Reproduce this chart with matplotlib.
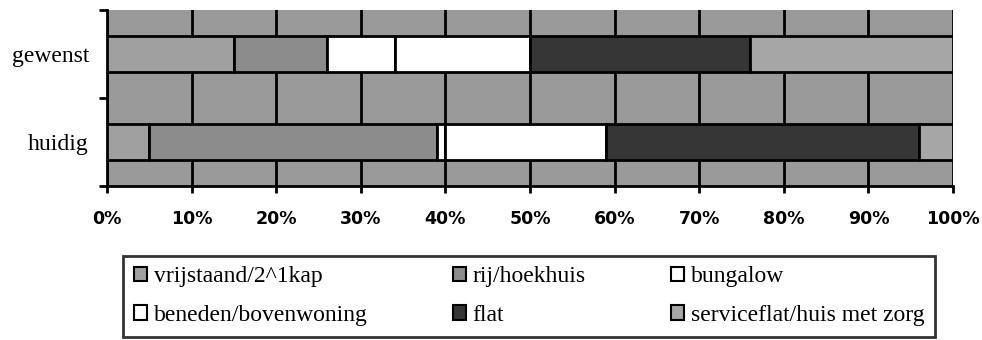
import matplotlib.pyplot as plt
from matplotlib.patches import Patch

# Housing type shares (%), desired vs current
categories = ['gewenst', 'huidig']
vrijstaand = [15, 5]
rij = [11, 34]
bungalow = [8, 1]
beneden = [16, 19]
flat = [26, 37]
service = [24, 4]

series_names = ['vrijstaand/2^1kap', 'rij/hoekhuis', 'bungalow',
                'beneden/bovenwoning', 'flat', 'serviceflat/huis met zorg']
series_values = [vrijstaand, rij, bungalow, beneden, flat, service]
series_colors = ['#a0a0a0', '#8c8c8c', 'white', 'white', '#363636', '#a6a6a6']

xticks = list(range(0, 101, 10))
xtick_labels = [f'{t}%' for t in xticks]

serif = 'Liberation Serif'
sans = 'DejaVu Sans'

fig = plt.figure(figsize=(9.82, 3.4), dpi=100)
ax = fig.add_axes([107 / 982, 1 - 186 / 340, (953 - 107) / 982, (186 - 10) / 340])
ax.set_facecolor('#9a9a9a')

ypos = [1.5, 0.5]
left = [0, 0]
for name, vals, col in zip(series_names, series_values, series_colors):
    ax.barh(ypos, vals, left=left, height=0.4, color=col,
            edgecolor='black', linewidth=2, label=name, zorder=3)
    left = [l + v for l, v in zip(left, vals)]

ax.set_xlim(0, 100)
ax.set_ylim(0, 2)
ax.set_axisbelow(True)
ax.xaxis.grid(True, color='black', linewidth=2)

ax.set_xticks(xticks)
ax.set_xticklabels(xtick_labels, fontfamily=sans, fontweight='bold', fontsize=12.5)
ax.tick_params(axis='x', direction='out', length=5, width=2, pad=12)

ax.set_yticks([0, 1, 2])
ax.set_yticklabels([])
ax.tick_params(axis='y', which='major', direction='out', length=6, width=2)
ax.set_yticks(ypos, minor=True)
ax.set_yticklabels(categories, minor=True, fontfamily=serif, fontsize=17)
ax.tick_params(axis='y', which='minor', length=0, pad=13)

for side in ['top', 'right']:
    ax.spines[side].set_visible(False)
for side in ['left', 'bottom']:
    ax.spines[side].set_linewidth(2)

# legend filled row by row: reorder for matplotlib's column-major layout
handles = [Patch(facecolor=c, edgecolor='black', linewidth=1.5) for c in series_colors]
order = [0, 3, 1, 4, 2, 5]
leg = fig.legend([handles[i] for i in order], [series_names[i] for i in order],
                 ncol=3, loc='upper left', mode='expand',
                 bbox_to_anchor=(123 / 982, 1 - 259 / 340, (935 - 123) / 982, 0.01),
                 prop={'family': serif, 'size': 17}, frameon=True, fancybox=False,
                 handlelength=0.55, handleheight=0.55, handletextpad=0.3,
                 labelspacing=0.75, borderpad=0.45, borderaxespad=0)
leg.get_frame().set_edgecolor('black')
leg.get_frame().set_linewidth(2)

fig.savefig('out.png', dpi=100)
